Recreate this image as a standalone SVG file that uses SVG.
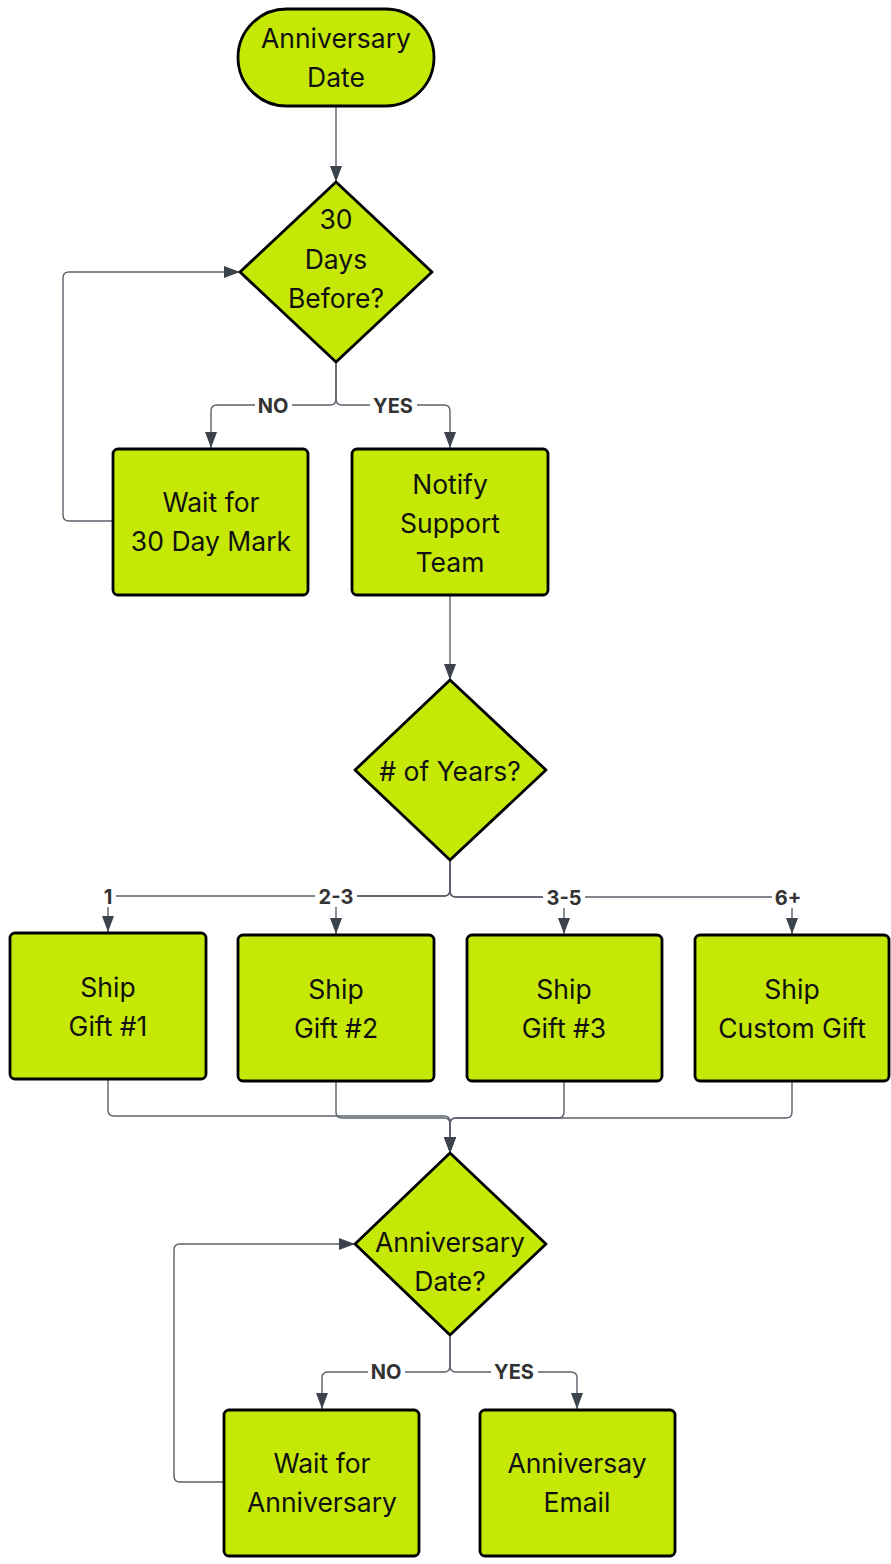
<svg xmlns="http://www.w3.org/2000/svg" width="891" height="1564" viewBox="0 0 891 1564">
  <style>
    .shape { fill: #c5e806; stroke: #000000; stroke-width: 2.8; stroke-linejoin: round; }
    .txt { font-family: Inter, "Liberation Sans", sans-serif; font-size: 26.5px; fill: #111111; text-anchor: middle; dominant-baseline: central; }
    .edge { fill: none; stroke: #5b606b; stroke-width: 1.4; }
    .lbl { font-family: Inter, "Liberation Sans", sans-serif; font-size: 20px; font-weight: bold; fill: #333333; text-anchor: middle; dominant-baseline: central; }
    .lblbg { fill: #ffffff; }
  </style>
  <defs>
    <marker id="arrow" markerUnits="userSpaceOnUse" markerWidth="16" markerHeight="14" refX="16" refY="7" orient="auto">
      <path d="M0,1 L16,7 L0,13 z" fill="#3d434d"/>
    </marker>
  </defs>
  <rect width="891" height="1564" fill="#ffffff"/>

  <!-- connectors -->
  <g id="connectors">
    <path class="edge" d="M336,106 V182" marker-end="url(#arrow)"/>
    <path class="edge" d="M336,362 V399 Q336,405 330,405 H217 Q211,405 211,411 V448" marker-end="url(#arrow)"/>
    <path class="edge" d="M336,362 V399 Q336,405 342,405 H444 Q450,405 450,411 V448" marker-end="url(#arrow)"/>
    <path class="edge" d="M113,521 H69 Q63,521 63,515 V278 Q63,272 69,272 H240" marker-end="url(#arrow)"/>
    <path class="edge" d="M450,595 V680" marker-end="url(#arrow)"/>
    <path class="edge" d="M450,860 V890 Q450,896 444,896 H114 Q108,896 108,902 V932" marker-end="url(#arrow)"/>
    <path class="edge" d="M450,860 V890 Q450,896 444,896 H342 Q336,896 336,902 V934" marker-end="url(#arrow)"/>
    <path class="edge" d="M450,860 V891 Q450,897 456,897 H558 Q564,897 564,903 V934" marker-end="url(#arrow)"/>
    <path class="edge" d="M450,860 V891 Q450,897 456,897 H786 Q792,897 792,903 V934" marker-end="url(#arrow)"/>
    <path class="edge" d="M108,1079 V1110 Q108,1116 114,1116 H444 Q450,1116 450,1122 V1153" marker-end="url(#arrow)"/>
    <path class="edge" d="M336,1081 V1112 Q336,1118 342,1118 H444 Q450,1118 450,1124 V1153" marker-end="url(#arrow)"/>
    <path class="edge" d="M564,1081 V1112 Q564,1118 558,1118 H456 Q450,1118 450,1124 V1153" marker-end="url(#arrow)"/>
    <path class="edge" d="M792,1081 V1112 Q792,1118 786,1118 H456 Q450,1118 450,1124 V1153" marker-end="url(#arrow)"/>
    <path class="edge" d="M450,1335 V1366 Q450,1372 444,1372 H328 Q322,1372 322,1378 V1409" marker-end="url(#arrow)"/>
    <path class="edge" d="M450,1335 V1366 Q450,1372 456,1372 H571 Q577,1372 577,1378 V1409" marker-end="url(#arrow)"/>
    <path class="edge" d="M224,1482 H180 Q174,1482 174,1476 V1250 Q174,1244 180,1244 H355" marker-end="url(#arrow)"/>

    <!-- edge labels -->
    <rect class="lblbg" x="255" y="395" width="37" height="22"/>
    <text class="lbl" x="273" y="406">NO</text>
    <rect class="lblbg" x="370" y="395" width="47" height="22"/>
    <text class="lbl" x="393" y="406">YES</text>
    <rect class="lblbg" x="100" y="887" width="16" height="20"/>
    <text class="lbl" x="108" y="897">1</text>
    <rect class="lblbg" x="315" y="887" width="42" height="20"/>
    <text class="lbl" x="336" y="897">2-3</text>
    <rect class="lblbg" x="543" y="888" width="42" height="20"/>
    <text class="lbl" x="564" y="898">3-5</text>
    <rect class="lblbg" x="772" y="888" width="32" height="20"/>
    <text class="lbl" x="788" y="898">6+</text>
    <rect class="lblbg" x="368" y="1361" width="37" height="22"/>
    <text class="lbl" x="386" y="1372">NO</text>
    <rect class="lblbg" x="491" y="1361" width="47" height="22"/>
    <text class="lbl" x="514" y="1372">YES</text>
  </g>

  <!-- nodes -->
  <g id="start">
    <rect class="shape" x="238" y="9" width="196" height="97" rx="48.5"/>
    <text class="txt" x="336" y="38">Anniversary</text>
    <text class="txt" x="336" y="77">Date</text>
  </g>
  <g id="check30">
    <path class="shape" d="M336,182 L432,272 L336,362 L240,272 Z"/>
    <text class="txt" x="336" y="219">30</text>
    <text class="txt" x="336" y="259">Days</text>
    <text class="txt" x="336" y="298">Before?</text>
  </g>
  <g id="wait30">
    <rect class="shape" x="113" y="449" width="195" height="146" rx="5"/>
    <text class="txt" x="211" y="502">Wait for</text>
    <text class="txt" x="211" y="541">30 Day Mark</text>
  </g>
  <g id="notify">
    <rect class="shape" x="352" y="449" width="196" height="146" rx="5"/>
    <text class="txt" x="450" y="484">Notify</text>
    <text class="txt" x="450" y="523">Support</text>
    <text class="txt" x="450" y="562">Team</text>
  </g>
  <g id="years">
    <path class="shape" d="M450,680 L546,770 L450,860 L355,770 Z"/>
    <text class="txt" x="450" y="771"># of Years?</text>
  </g>
  <g id="gift1">
    <rect class="shape" x="10" y="933" width="196" height="146" rx="5"/>
    <text class="txt" x="108" y="987">Ship</text>
    <text class="txt" x="108" y="1026">Gift #1</text>
  </g>
  <g id="gift2">
    <rect class="shape" x="238" y="935" width="196" height="146" rx="5"/>
    <text class="txt" x="336" y="989">Ship</text>
    <text class="txt" x="336" y="1028">Gift #2</text>
  </g>
  <g id="gift3">
    <rect class="shape" x="467" y="935" width="195" height="146" rx="5"/>
    <text class="txt" x="564" y="989">Ship</text>
    <text class="txt" x="564" y="1028">Gift #3</text>
  </g>
  <g id="giftCustom">
    <rect class="shape" x="695" y="935" width="194" height="146" rx="5"/>
    <text class="txt" x="792" y="989">Ship</text>
    <text class="txt" x="792" y="1028">Custom Gift</text>
  </g>
  <g id="annivCheck">
    <path class="shape" d="M450,1153 L546,1244 L450,1335 L355,1244 Z"/>
    <text class="txt" x="450" y="1242">Anniversary</text>
    <text class="txt" x="450" y="1281">Date?</text>
  </g>
  <g id="waitAnniv">
    <rect class="shape" x="224" y="1410" width="195" height="146" rx="5"/>
    <text class="txt" x="322" y="1463">Wait for</text>
    <text class="txt" x="322" y="1502">Anniversary</text>
  </g>
  <g id="email">
    <rect class="shape" x="480" y="1410" width="195" height="146" rx="5"/>
    <text class="txt" x="577" y="1463">Anniversay</text>
    <text class="txt" x="577" y="1502">Email</text>
  </g>
</svg>
